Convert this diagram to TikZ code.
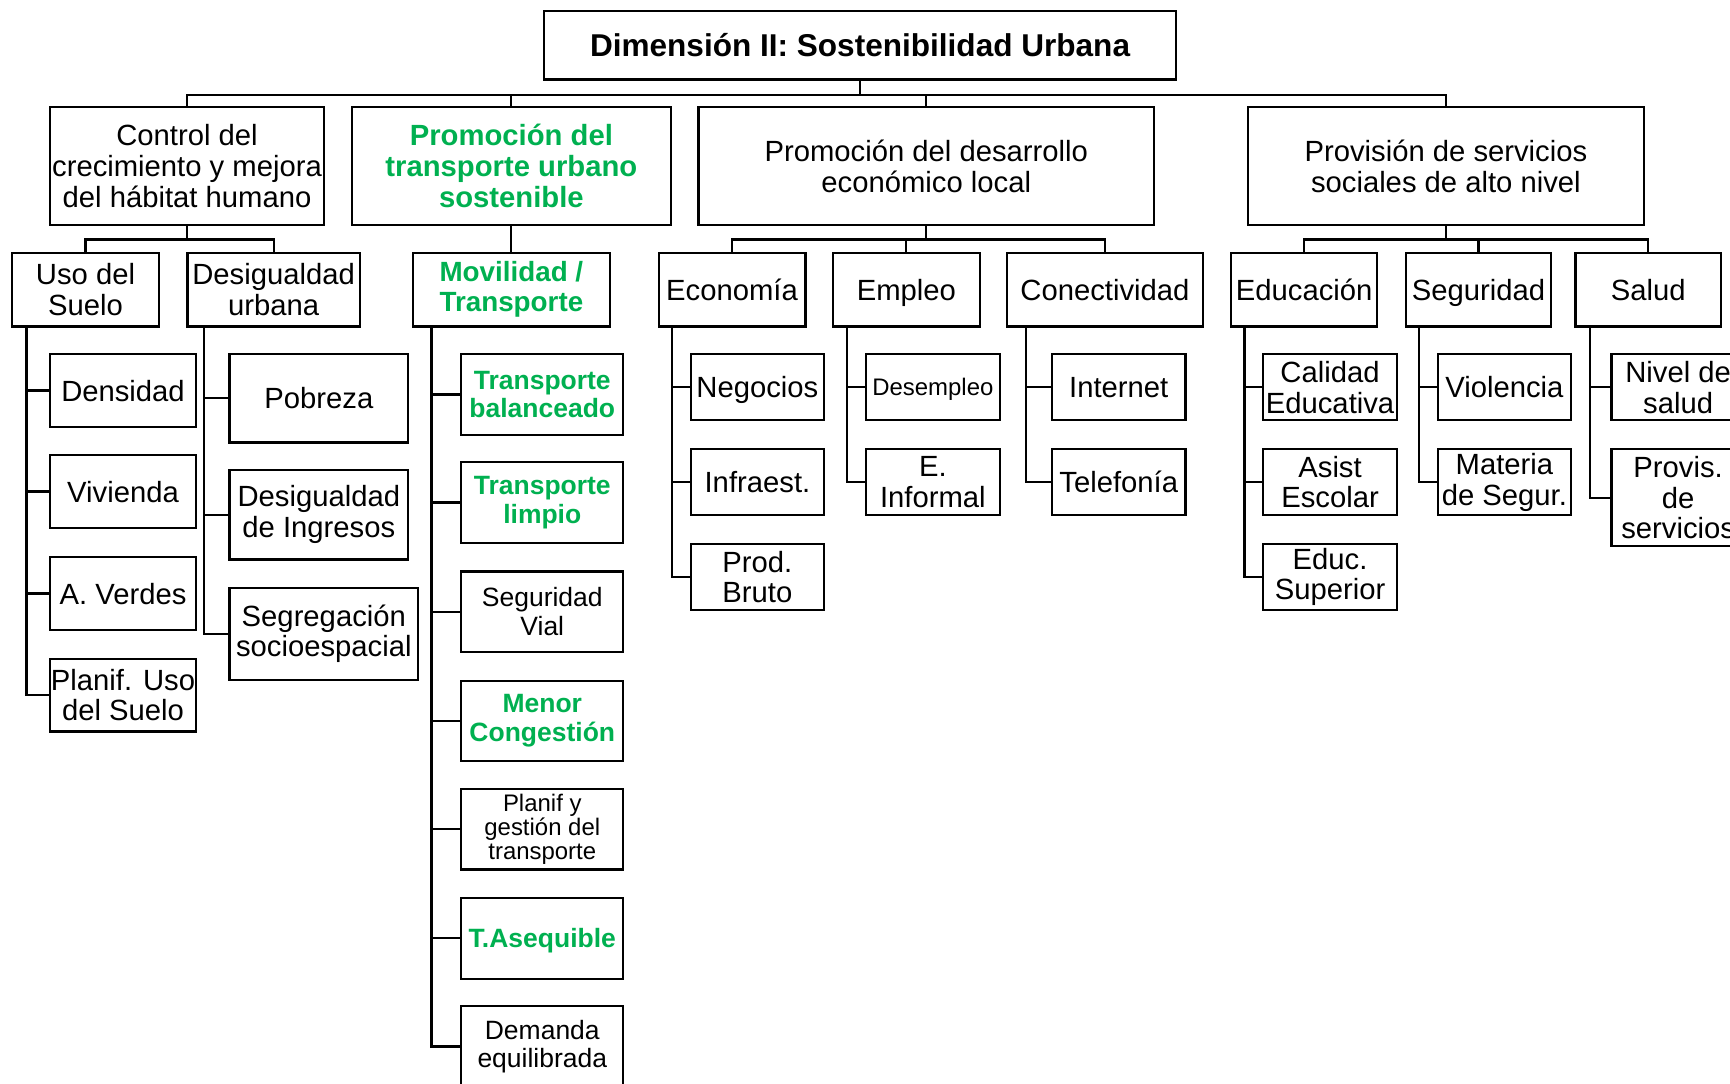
\documentclass[tikz,border=0pt]{standalone}
\usepackage{fontspec}
\setmainfont{Liberation Sans}
\definecolor{verde}{HTML}{00B050}
\newcommand\tamtit{\fontsize{14.3}{15}\selectfont\bfseries}
\newcommand\tamnor{\fontsize{13.25}{13.9}\selectfont}
\newcommand\tammed{\fontsize{12}{13}\selectfont}
\newcommand\tampeq{\fontsize{10.85}{11}\selectfont}
\begin{document}
\begin{tikzpicture}[x=0.5pt, y=-0.5pt, line width=1pt,
  caja/.style={draw, inner sep=0pt, align=center, font=\tamnor},
  linea/.style={text height=#1, text depth=0pt},
  linea/.default=9.5pt,
  uno/.style={caja, minimum height=53.5pt},
  dos/.style={caja, minimum height=33.5pt},
  hoja/.style={caja, minimum width=60.5pt, minimum height=30pt},
  hojau/.style={caja, minimum width=66.5pt, minimum height=33pt},
  hojam/.style={caja, font=\tammed, minimum width=73.5pt, minimum height=36.5pt},
  verdeb/.style={text=verde, font=\tammed\bfseries}]
\useasboundingbox (0,0) rectangle (1568,982);
\node[caja, linea=10.2pt, font=\tamtit, minimum width=286.5pt, minimum height=31pt] (dim) at (779.5,41) {Dimensión II: Sostenibilidad Urbana};
\node[uno, minimum width=124.5pt] (ctrl) at (169.5,150.5) {Control del\\crecimiento y mejora\\del hábitat humano};
\node[uno, minimum width=144.5pt, text=verde, font=\tamnor\bfseries] (trans) at (463.5,150.5) {Promoción del\\transporte urbano\\sostenible};
\node[uno, minimum width=206.5pt] (desa) at (839.5,150.5) {Promoción del desarrollo\\económico local};
\node[uno, minimum width=179.5pt] (prov) at (1310.5,150.5) {Provisión de servicios\\sociales de alto nivel};
\node[dos, minimum width=66.5pt] (uso) at (77.5,262.5) {Uso del\\Suelo};
\node[dos, minimum width=78pt] (desig) at (248,262.5) {Desigualdad\\urbana};
\node[dos, minimum width=89.5pt, text=verde, font=\fontsize{12.6}{13.5}\selectfont\bfseries] (movil) at (463.5,262.5) {Movilidad /\\Transporte};
\node[dos, linea, minimum width=66.5pt] (econ) at (663.5,262.5) {Economía};
\node[dos, linea, minimum width=66.5pt] (empleo) at (821.5,262.5) {Empleo};
\node[dos, linea, minimum width=88.5pt] (conect) at (1001.5,262.5) {Conectividad};
\node[dos, linea, minimum width=66pt] (educ) at (1182,262.5) {Educación};
\node[dos, linea, minimum width=66pt] (segur) at (1340,262.5) {Seguridad};
\node[dos, linea, minimum width=66pt] (salud) at (1494,262.5) {Salud};
\node[hojau, linea] (dens) at (111.5,354) {Densidad};
\node[hojau, linea] (viv) at (111.5,445.5) {Vivienda};
\node[hojau, linea] (verdes) at (111.5,538) {A. Verdes};
\node[hojau] (planuso) at (111.5,630) {Planif. Uso\\del Suelo};
\node[caja, linea, minimum width=81pt, minimum height=40pt] (pobr) at (289,361) {Pobreza};
\node[caja, minimum width=81pt, minimum height=40.5pt] (ingr) at (289,466.5) {Desigualdad\\de Ingresos};
\node[caja, minimum width=85.5pt, minimum height=41.5pt] (segre) at (293.5,574.5) {Segregación\\socioespacial};
\node[hojam, verdeb] (tbal) at (491.5,357.5) {Transporte\\balanceado};
\node[hojam, verdeb] (tlim) at (491.5,455.5) {Transporte\\limpio};
\node[hojam] (svial) at (491.5,554.5) {Seguridad\\Vial};
\node[hojam, verdeb] (mcong) at (491.5,653.5) {Menor\\Congestión};
\node[hojam, font=\tampeq] (planif) at (491.5,751.5) {Planif y\\gestión del\\transporte};
\node[hojam, verdeb, linea=8.6pt] (tasq) at (491.5,850.5) {T.Asequible};
\node[hojam] (dem) at (491.5,948.5) {Demanda\\equilibrada};
\node[hoja, linea] (neg) at (686.5,351) {Negocios};
\node[hoja, linea] (infra) at (686.5,437) {Infraest.};
\node[hoja] (prod) at (686.5,523) {Prod.\\Bruto};
\node[hoja, linea=7.8pt, font=\tampeq] (desem) at (845.5,351) {Desempleo};
\node[hoja] (einf) at (845.5,437) {E.\\Informal};
\node[hoja, linea] (inter) at (1014,351) {Internet};
\node[hoja, linea] (telef) at (1014,437) {Telefonía};
\node[hoja] (calid) at (1205.5,351) {Calidad\\Educativa};
\node[hoja] (asist) at (1205.5,437) {Asist\\Escolar};
\node[hoja] (esup) at (1205.5,523) {Educ.\\Superior};
\node[hoja, linea] (viol) at (1363.5,351) {Violencia};
\node[hoja] (mater) at (1363.5,437) {Materia\\de Segur.};
\node[hoja] (nivel) at (1521,351) {Nivel de\\salud};
\node[hoja, minimum height=44pt] (provis) at (1521,451) {Provis.\\de\\servicios};
\foreach \n in {ctrl,trans,desa,prov} \draw (dim.south) -- ++(0,13) -| (\n.north);
\foreach \n in {uso,desig} \draw (ctrl.south) -- ++(0,12) -| (\n.north);
\draw (trans) -- (movil);
\foreach \n in {econ,empleo,conect} \draw (desa.south) -- ++(0,12) -| (\n.north);
\foreach \n in {educ,segur,salud} \draw (prov.south) -- ++(0,12) -| (\n.north);
\foreach \n in {dens,viv,verdes,planuso} \draw ([xshift=7pt]uso.south west) |- (\n.west);
\foreach \n in {pobr,ingr,segre} \draw ([xshift=8pt]desig.south west) |- (\n.west);
\foreach \n in {tbal,tlim,svial,mcong,planif,tasq,dem} \draw ([xshift=9pt]movil.south west) |- (\n.west);
\foreach \n in {neg,infra,prod} \draw ([xshift=6.5pt]econ.south west) |- (\n.west);
\foreach \n in {desem,einf} \draw ([xshift=7pt]empleo.south west) |- (\n.west);
\foreach \n in {inter,telef} \draw ([xshift=9pt]conect.south west) |- (\n.west);
\foreach \n in {calid,asist,esup} \draw ([xshift=6.5pt]educ.south west) |- (\n.west);
\foreach \n in {viol,mater} \draw ([xshift=6.5pt]segur.south west) |- (\n.west);
\foreach \n in {nivel,provis} \draw ([xshift=7pt]salud.south west) |- (\n.west);
\end{tikzpicture}
\end{document}
